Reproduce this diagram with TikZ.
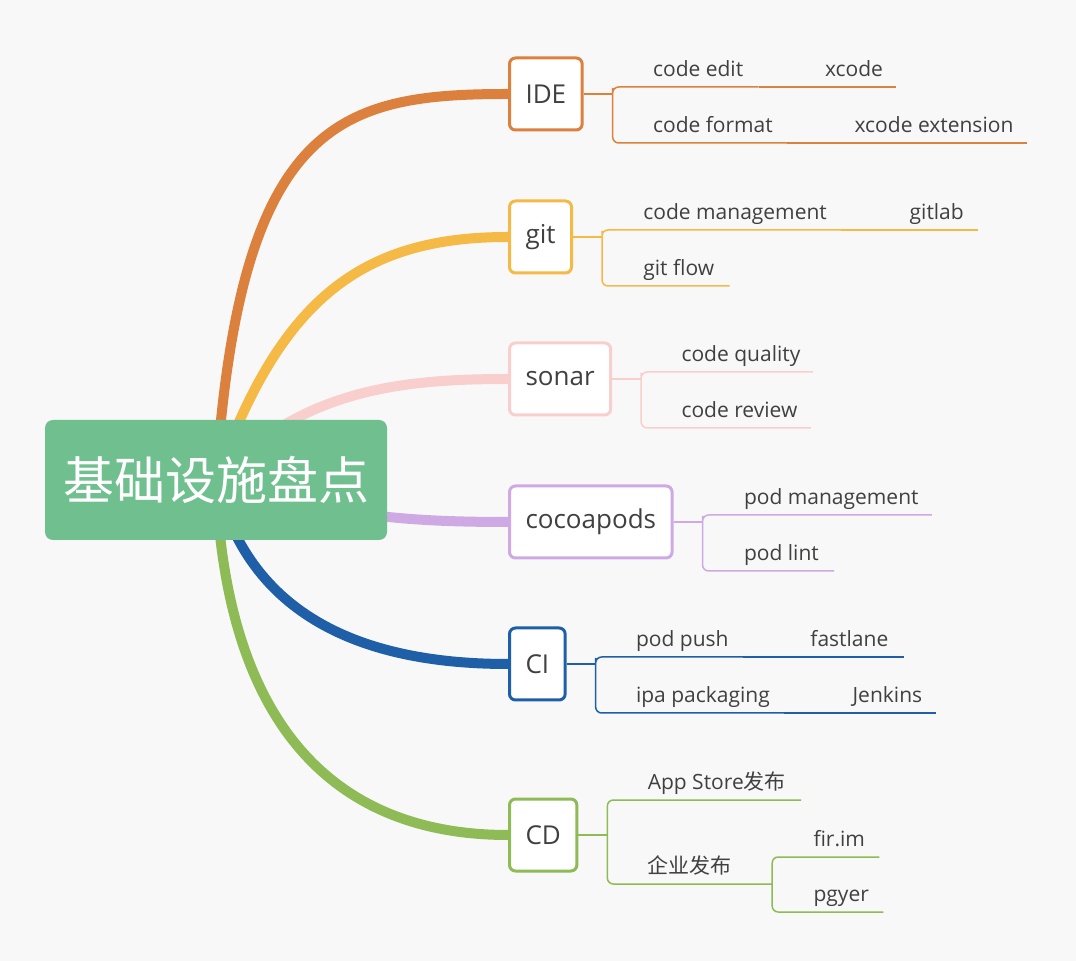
\documentclass[tikz,border=0pt]{standalone}
\usepackage{fontspec}
\setmainfont{Open Sans}
\newfontfamily\cjk{Noto Sans CJK SC}
\usetikzlibrary{positioning,backgrounds}
\definecolor{bgc}{HTML}{F8F8F8}
\definecolor{rootc}{HTML}{70C08F}
\definecolor{txt}{HTML}{404040}
\definecolor{idec}{HTML}{DC803E}
\definecolor{gitc}{HTML}{F5B946}
\definecolor{sonarc}{HTML}{F8CFCD}
\definecolor{podc}{HTML}{CEA9E4}
\definecolor{cic}{HTML}{1F5FA7}
\definecolor{cdc}{HTML}{8EBB55}
\tikzset{
  root/.style={fill=rootc, rounded corners=4pt, minimum width=171pt, minimum height=60pt, text=white, font=\cjk\fontsize{25.5}{30}\selectfont},
  topic/.style={draw=#1, fill=white, line width=1.5pt, rounded corners=3pt, minimum height=36pt, inner xsep=8pt, anchor=west, text=txt, font=\fontsize{13}{16}\selectfont},
  branch/.style={draw=#1, line width=5pt},
  twig/.style={draw=#1, line width=0.75pt, rounded corners=3pt},
  leaf/.style={anchor=south west, inner xsep=0pt, inner ysep=5pt, text depth=0pt, text=txt, font=\fontsize{10.5}{13}\selectfont}
}
\begin{document}
\begin{tikzpicture}[x=0.5pt, y=-0.5pt]
                \node[root] (root) at (216,480) {基础设施盘点};
                \node[topic=idec] (ide) at (508,94) {IDE};
                \node[topic=gitc] (git) at (508,237) {git};
                \node[topic=sonarc] (sonar) at (508,379) {sonar};
                \node[topic=podc] (pod) at (508,522) {cocoapods};
                \node[topic=cic] (ci) at (508,664) {CI};
                \node[topic=cdc] (cd) at (508,835) {CD};
                \begin{scope}[on background layer]
                \fill[bgc] (0,0) rectangle (1076,961);
                \draw[branch=idec] (root.center) .. controls (240,120) and (340,94) .. (ide.west);
                \draw[branch=gitc] (root.center) .. controls (280,300) and (360,237) .. (git.west);
                \draw[branch=sonarc] (root.center) .. controls (300,390) and (400,379) .. (sonar.west);
                \draw[branch=podc] (root.center) .. controls (330,515) and (400,522) .. (pod.west);
                \draw[branch=cic] (root.center) .. controls (245,600) and (340,664) .. (ci.west);
                \draw[branch=cdc] (root.center) .. controls (225,720) and (330,835) .. (cd.west);
                \end{scope}
                % IDE
                \coordinate (ide-j) at ([xshift=14.5pt]ide.east);
                \node[leaf] (ce) at ([xshift=20pt,yshift=3.5pt]ide-j) {code edit};
                \node[leaf] (cf) at ([xshift=20pt,yshift=-24.5pt]ide-j) {code format};
                \node[leaf, base right=40.5pt of ce] (xc) {xcode};
                \node[leaf, base right=40.5pt of cf] (xe) {xcode extension};
                \draw[twig=idec] (ide.east) -- (ide-j);
                \draw[twig=idec] ([xshift=7.5pt]ce.south east) -| (ide-j) |- ([xshift=7pt]cf.south east);
                \draw[twig=idec] ([xshift=7.5pt]ce.south east) -- ([xshift=6.5pt]xc.south east);
                \draw[twig=idec] ([xshift=7pt]cf.south east) -- ([xshift=6.5pt]xe.south east);
                % git
                \coordinate (git-j) at ([xshift=14.5pt]git.east);
                \node[leaf] (cm) at ([xshift=20.5pt,yshift=3.5pt]git-j) {code management};
                \node[leaf] (gf) at ([xshift=20.5pt,yshift=-24.5pt]git-j) {git flow};
                \node[leaf, base right=41pt of cm] (gl) {gitlab};
                \draw[twig=gitc] (git.east) -- (git-j);
                \draw[twig=gitc] ([xshift=7pt]cm.south east) -| (git-j) |- ([xshift=7.5pt]gf.south east);
                \draw[twig=gitc] ([xshift=7pt]cm.south east) -- ([xshift=7pt]gl.south east);
                % sonar
                \coordinate (sonar-j) at ([xshift=14.5pt]sonar.east);
                \node[leaf] (cq) at ([xshift=20pt,yshift=3.5pt]sonar-j) {code quality};
                \node[leaf] (cr) at ([xshift=20pt,yshift=-24.5pt]sonar-j) {code review};
                \draw[twig=sonarc] (sonar.east) -- (sonar-j);
                \draw[twig=sonarc] ([xshift=6pt]cq.south east) -| (sonar-j) |- ([xshift=6.5pt]cr.south east);
                % cocoapods
                \coordinate (pod-j) at ([xshift=14.5pt]pod.east);
                \node[leaf] (pm) at ([xshift=20.5pt,yshift=3.5pt]pod-j) {pod management};
                \node[leaf] (pl) at ([xshift=20.5pt,yshift=-24.5pt]pod-j) {pod lint};
                \draw[twig=podc] (pod.east) -- (pod-j);
                \draw[twig=podc] ([xshift=6.5pt]pm.south east) -| (pod-j) |- ([xshift=7.5pt]pl.south east);
                % CI
                \coordinate (ci-j) at ([xshift=14.5pt]ci.east);
                \node[leaf] (pp) at ([xshift=20pt,yshift=3.5pt]ci-j) {pod push};
                \node[leaf] (ip) at ([xshift=20pt,yshift=-24.5pt]ci-j) {ipa packaging};
                \node[leaf, base right=40.5pt of pp] (fl) {fastlane};
                \node[leaf, base right=41pt of ip] (jk) {Jenkins};
                \draw[twig=cic] (ci.east) -- (ci-j);
                \draw[twig=cic] ([xshift=7pt]pp.south east) -| (ci-j) |- ([xshift=7pt]ip.south east);
                \draw[twig=cic] ([xshift=7pt]pp.south east) -- ([xshift=7.5pt]fl.south east);
                \draw[twig=cic] ([xshift=7pt]ip.south east) -- ([xshift=6.5pt]jk.south east);
                % CD
                \coordinate (cd-j) at ([xshift=14.5pt]cd.east);
                \node[leaf] (as) at ([xshift=20pt,yshift=17.5pt]cd-j) {App Store{\cjk 发布}};
                \node[leaf] (qy) at ([xshift=20pt,yshift=-24.5pt]cd-j) {{\cjk 企业发布}};
                \coordinate (qy-j) at ([xshift=20pt]qy.south east);
                \node[leaf] (fir) at ([xshift=20.5pt,yshift=13.5pt]qy-j) {fir.im};
                \node[leaf] (pg) at ([xshift=20.5pt,yshift=-14pt]qy-j) {pgyer};
                \draw[twig=cdc] (cd.east) -- (cd-j);
                \draw[twig=cdc] ([xshift=7.5pt]as.south east) -| (cd-j) |- (qy-j);
                \draw[twig=cdc] ([xshift=7pt]fir.south east) -| (qy-j) |- ([xshift=7pt]pg.south east);
\end{tikzpicture}
\end{document}
